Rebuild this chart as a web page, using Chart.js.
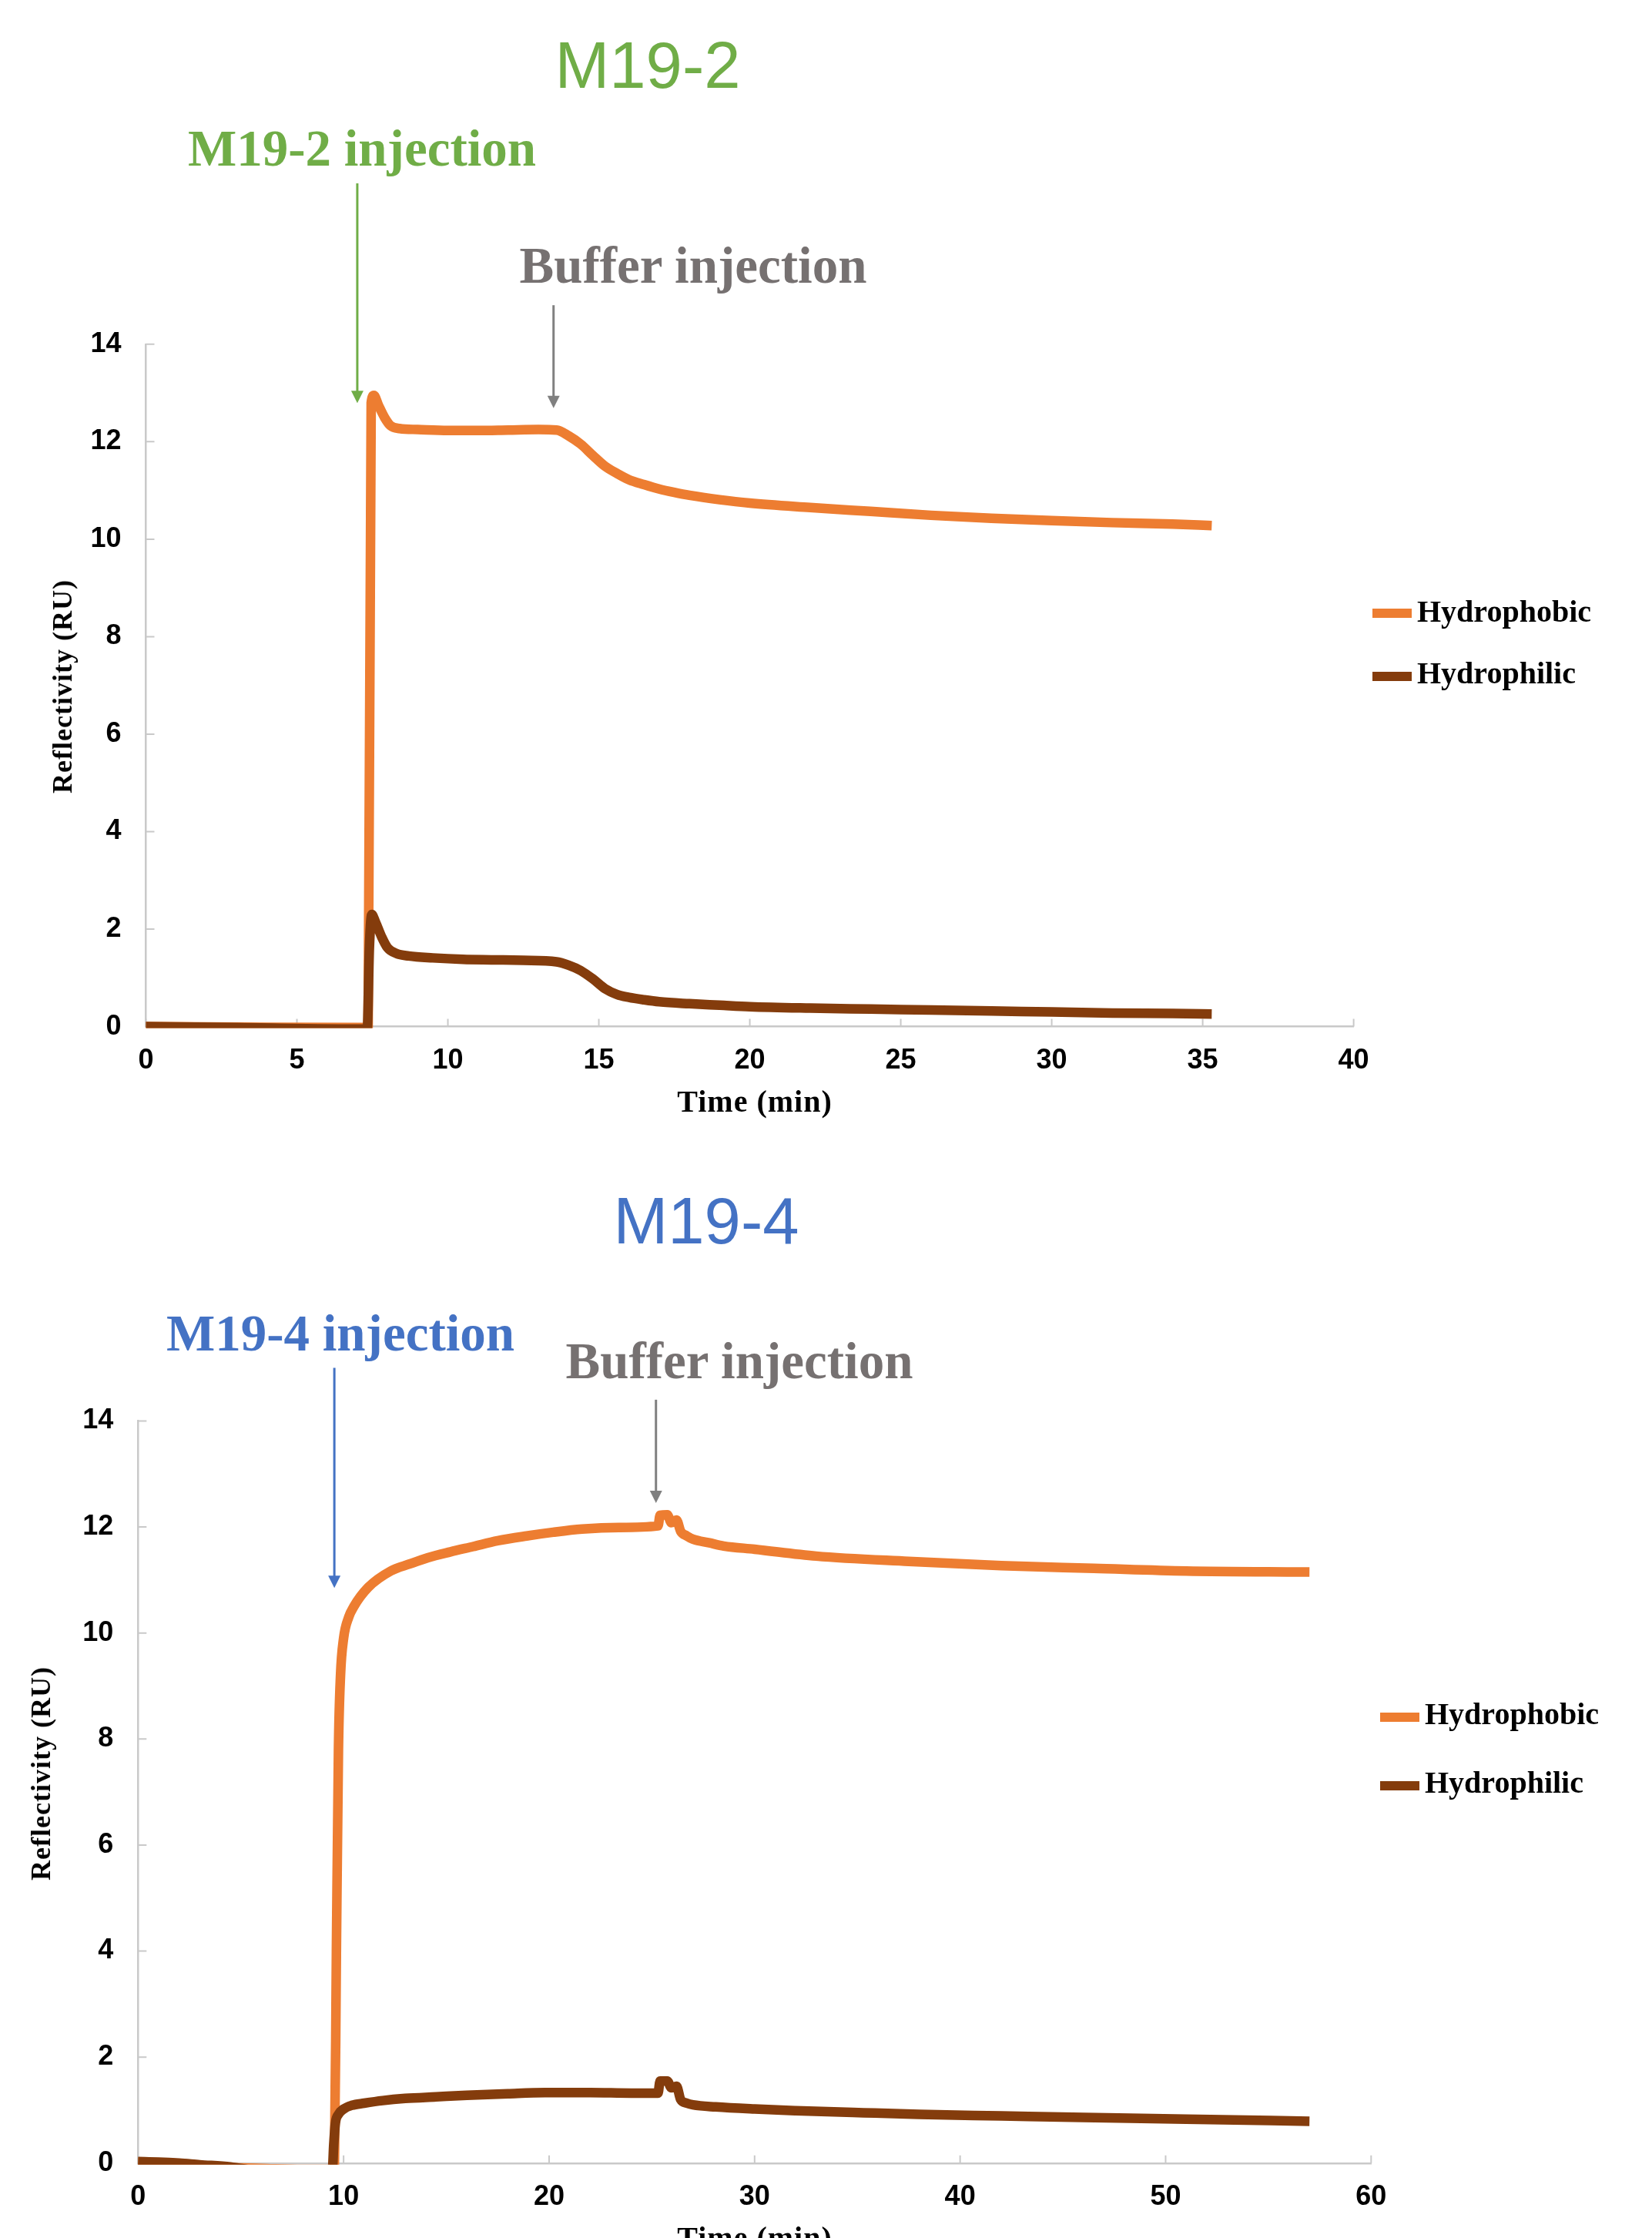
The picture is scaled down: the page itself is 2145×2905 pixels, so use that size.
<!DOCTYPE html>
<html>
<head>
<meta charset="utf-8">
<script src="https://cdn.jsdelivr.net/npm/chart.js@4.4.1/dist/chart.umd.min.js"></script>
<style>
  body { margin: 0; width: 2145px; height: 2905px; position: relative; background: #fff; overflow: hidden; }
  canvas { position: absolute; left: 0; }
  .txt { position: absolute; white-space: nowrap; line-height: 1; }
  .title { font-family: "Liberation Sans", Arial, sans-serif; font-size: 85px; transform: translateX(-50%); }
  .note { font-family: "Liberation Serif", "Times New Roman", serif; font-weight: bold; font-size: 67px; transform: translateX(-50%); }
  .leg { font-family: "Liberation Serif", serif; font-weight: bold; font-size: 40px; color: #000; }
  .sw { position: absolute; width: 51px; height: 12px; }
  .xt { font-family: "Liberation Serif", serif; font-weight: bold; font-size: 40px; letter-spacing: 1px; color: #000; transform: translateX(-50%); }
  .yt { font-family: "Liberation Serif", serif; font-weight: bold; font-size: 36px; letter-spacing: 1px; color: #000; transform: translate(-50%, -50%) rotate(-90deg); }
</style>
</head>
<body>
<canvas id="chartTop" width="2145" height="1470" style="top:0"></canvas>
<canvas id="chartBottom" width="2145" height="1435" style="top:1470px"></canvas>

<div class="txt title" style="left:841px;top:42px;color:#70AD47">M19-2</div>
<div class="txt note" style="left:470px;top:159px;color:#70AD47">M19-2 injection</div>
<div class="txt note" style="left:900px;top:311px;color:#767171">Buffer injection</div>
<div class="sw" style="left:1782px;top:790px;background:#ED7D31"></div>
<div class="txt leg" style="left:1840px;top:774px">Hydrophobic</div>
<div class="sw" style="left:1782px;top:872px;background:#843C0C"></div>
<div class="txt leg" style="left:1840px;top:854px">Hydrophilic</div>
<div class="txt xt" style="left:980px;top:1410px">Time (min)</div>
<div class="txt yt" style="left:81px;top:891px">Reflectivity (RU)</div>

<div class="txt title" style="left:917px;top:1542px;color:#4472C4">M19-4</div>
<div class="txt note" style="left:442px;top:1697px;color:#4472C4">M19-4 injection</div>
<div class="txt note" style="left:960px;top:1733px;color:#767171">Buffer injection</div>
<div class="sw" style="left:1792px;top:2223px;background:#ED7D31"></div>
<div class="txt leg" style="left:1850px;top:2205px">Hydrophobic</div>
<div class="sw" style="left:1792px;top:2312px;background:#843C0C"></div>
<div class="txt leg" style="left:1850px;top:2294px">Hydrophilic</div>
<div class="txt xt" style="left:980px;top:2885px">Time (min)</div>
<div class="txt yt" style="left:53px;top:2302px">Reflectivity (RU)</div>

<script>
// M19-2 run
const m192PhobicTime = [0, 3, 7.2, 7.36, 7.46, 7.55, 7.7, 7.9, 8.1, 8.4, 9, 10, 11, 12, 13, 13.6, 14.0, 14.4, 14.8, 15.2, 15.6, 16.0, 16.5, 17, 17.5, 18, 19, 20, 22, 24, 26, 28, 30, 32, 34, 35.3];
const m192Phobic = [0.0, -0.01, -0.02, 0.0, 12.8, 12.95, 12.75, 12.5, 12.33, 12.27, 12.25, 12.23, 12.23, 12.24, 12.25, 12.24, 12.12, 11.95, 11.72, 11.5, 11.35, 11.22, 11.12, 11.03, 10.96, 10.9, 10.81, 10.74, 10.65, 10.57, 10.49, 10.43, 10.38, 10.34, 10.31, 10.28];
const m192PhilicTime = [0, 3, 7.2, 7.33, 7.4, 7.48, 7.6, 7.8, 8.0, 8.3, 8.7, 9.5, 10.5, 11.5, 12.5, 13.6, 14.0, 14.4, 14.8, 15.2, 15.6, 16.0, 16.5, 17, 18, 19, 20, 22, 24, 26, 28, 30, 32, 34, 35.3];
const m192Philic = [0.0, -0.02, -0.05, -0.05, 1.6, 2.3, 2.15, 1.85, 1.62, 1.5, 1.45, 1.41, 1.38, 1.37, 1.36, 1.33, 1.26, 1.15, 0.98, 0.78, 0.66, 0.6, 0.55, 0.51, 0.47, 0.44, 0.41, 0.38, 0.36, 0.34, 0.32, 0.3, 0.28, 0.27, 0.26];

// M19-4 run
const m194PhobicTime = [0, 2, 4, 6, 8, 9.55, 9.65, 9.75, 9.85, 10.0, 10.25, 10.5, 11.2, 12.3, 13.2, 14.1, 15.2, 16.3, 17.5, 18.9, 20.2, 21.6, 23.4, 25.3, 25.4, 25.75, 25.95, 26.2, 26.4, 26.7, 27.0, 27.8, 28.5, 30, 33, 37.5, 42, 46.5, 51, 57];
const m194Phobic = [0.02, -0.01, -0.08, -0.1, -0.12, -0.12, 4.0, 7.8, 9.2, 9.9, 10.3, 10.5, 10.86, 11.17, 11.3, 11.42, 11.53, 11.63, 11.74, 11.83, 11.9, 11.96, 11.99, 12.02, 12.22, 12.23, 12.08, 12.13, 11.92, 11.83, 11.77, 11.7, 11.64, 11.58, 11.45, 11.35, 11.27, 11.22, 11.17, 11.15];
const m194PhilicTime = [0, 1, 2, 3, 4.5, 6, 9.45, 9.52, 9.6, 9.75, 10.0, 10.4, 11, 11.9, 13, 14.5, 16, 18, 19.8, 22, 24, 25.3, 25.4, 25.75, 25.95, 26.2, 26.4, 26.7, 27.0, 28.1, 30, 32, 35.3, 38, 42, 46, 51, 57];
const m194Philic = [0.03, 0.02, 0.0, -0.03, -0.07, -0.15, -0.15, 0.35, 0.75, 0.92, 1.02, 1.09, 1.13, 1.18, 1.22, 1.25, 1.28, 1.31, 1.33, 1.33, 1.32, 1.32, 1.55, 1.55, 1.42, 1.45, 1.2, 1.13, 1.1, 1.06, 1.02, 0.99, 0.95, 0.92, 0.89, 0.86, 0.83, 0.79];

const seriesNames = ['Hydrophobic', 'Hydrophilic'];
const yTicks = [0, 2, 4, 6, 8, 10, 12, 14];
const xTicksTop = [0, 5, 10, 15, 20, 25, 30, 35, 40];
const xTicksBottom = [0, 10, 20, 30, 40, 50, 60];

// injection markers (time, arrow top, arrow tip) in data units
const arrowsTop = [
  { x: 7.0, from: 17.3, to: 12.79, color: '#70AD47' },
  { x: 13.5, from: 14.8, to: 12.69, color: '#808080' }
];
const arrowsBottom = [
  { x: 9.55, from: 15.0, to: 10.85, color: '#4472C4' },
  { x: 25.2, from: 14.4, to: 12.45, color: '#808080' }
];

const ORANGE = '#ED7D31';
const BROWN = '#843C0C';
const AXIS = '#C9C9C9';

const pts = (t, v) => t.map((x, i) => ({ x, y: v[i] }));

function extras(arrows) {
  return {
    id: 'extras',
    beforeDatasetsDraw(chart) {
      const { ctx, chartArea: a, scales: { x, y } } = chart;
      ctx.save();
      ctx.strokeStyle = AXIS;
      ctx.lineWidth = 2;
      ctx.beginPath();
      x.ticks.forEach(t => {
        const px = x.getPixelForValue(t.value);
        ctx.moveTo(px, a.bottom); ctx.lineTo(px, a.bottom - 10);
      });
      y.ticks.forEach(t => {
        const py = y.getPixelForValue(t.value);
        ctx.moveTo(a.left, py); ctx.lineTo(a.left + 11, py);
      });
      ctx.stroke();
      ctx.restore();
    },
    afterDraw(chart) {
      const { ctx, scales: { x, y } } = chart;
      ctx.save();
      arrows.forEach(ar => {
        const px = x.getPixelForValue(ar.x);
        const y0 = y.getPixelForValue(ar.from);
        const y1 = y.getPixelForValue(ar.to);
        ctx.strokeStyle = ar.color;
        ctx.fillStyle = ar.color;
        ctx.lineWidth = 3;
        ctx.beginPath();
        ctx.moveTo(px, y0); ctx.lineTo(px, y1 - 10);
        ctx.stroke();
        ctx.beginPath();
        ctx.moveTo(px - 8, y1 - 16);
        ctx.lineTo(px + 8, y1 - 16);
        ctx.lineTo(px, y1);
        ctx.closePath();
        ctx.fill();
      });
      ctx.restore();
    }
  };
}

function makeChart(id, phobic, philic, xMax, xStep, xTicks, padding, arrows) {
  const tickFont = { family: 'Liberation Sans', size: 36, weight: 'bold' };
  const lineOpts = {
    borderWidth: 12.5, pointRadius: 0, fill: false,
    cubicInterpolationMode: 'monotone', borderJoinStyle: 'round',
    clip: { left: 7, top: 7, right: 7, bottom: 2 }
  };
  return new Chart(document.getElementById(id), {
    type: 'line',
    data: {
      datasets: [
        Object.assign({ label: seriesNames[0], data: phobic, borderColor: ORANGE, backgroundColor: ORANGE, order: 2 }, lineOpts),
        Object.assign({ label: seriesNames[1], data: philic, borderColor: BROWN, backgroundColor: BROWN, order: 1 }, lineOpts)
      ]
    },
    options: {
      responsive: false,
      animation: false,
      parsing: false,
      layout: { padding },
      plugins: { legend: { display: false }, tooltip: { enabled: false } },
      scales: {
        x: {
          type: 'linear', min: 0, max: xMax,
          afterFit: s => { s.height = 60; },
          afterBuildTicks: s => { s.ticks = xTicks.map(v => ({ value: v })); },
          ticks: { stepSize: xStep, font: tickFont, color: '#000', padding: 23, maxRotation: 0, autoSkip: false },
          grid: { drawOnChartArea: false, drawTicks: false },
          border: { color: AXIS, width: 2.5 }
        },
        y: {
          min: 0, max: 14,
          afterFit: s => { s.width = 100; },
          afterBuildTicks: s => { s.ticks = yTicks.map(v => ({ value: v })); },
          ticks: { stepSize: 2, font: tickFont, color: '#000', padding: 32 },
          grid: { drawOnChartArea: false, drawTicks: false },
          border: { color: AXIS, width: 2.5 }
        }
      }
    },
    plugins: [extras(arrows)]
  });
}

makeChart('chartTop', pts(m192PhobicTime, m192Phobic), pts(m192PhilicTime, m192Philic),
  40, 5, xTicksTop, { top: 446.8, left: 89.5, right: 387.4, bottom: 77.4 }, arrowsTop);
makeChart('chartBottom', pts(m194PhobicTime, m194Phobic), pts(m194PhilicTime, m194Philic),
  60, 10, xTicksBottom, { top: 374.4, left: 79.3, right: 364.7, bottom: 37.2 }, arrowsBottom);
</script>
</body>
</html>
